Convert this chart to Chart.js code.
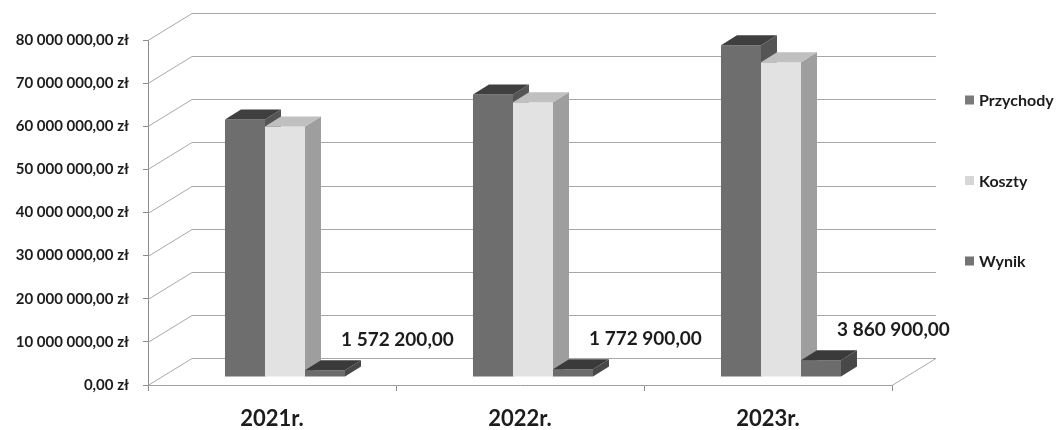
<!DOCTYPE html>
<html lang="pl">
<head>
<meta charset="utf-8">
<title>Przychody, koszty i wynik</title>
<script src="https://cdn.jsdelivr.net/npm/chart.js@4.4.1/dist/chart.umd.min.js"></script>
<style>
    html, body { margin: 0; padding: 0; background: #fff; }
    #wrap { width: 1057px; height: 430px; position: relative; }
</style>
</head>
<body>
<div id="wrap"><canvas id="wykres"></canvas></div>
<script>
const lata = ['2021r.', '2022r.', '2023r.'];
const przychody = [59700000, 65500000, 76900000];
const koszty = [58100000, 63700000, 73000000];
const wynik = [1572200, 1772900, 3860900];

const osMin = 0;
const osMax = 80000000;
const osKrok = 10000000;

const FONT = 'Lato, "Open Sans", sans-serif';
const TEKST = '#1c1c1c';

// przesuniecia "3D"
const SCIANA = { dx: 44, dy: -27 };
const SLUPKI = { dx: 13, dy: -8 };
const BRYLA = { dx: 16, dy: -10 };

function kwota(v) {
    return Math.round(v).toString().replace(/\B(?=(\d{3})+(?!\d))/g, ' ') + ',00';
}

function wielokat(ctx, pkt) {
    ctx.beginPath();
    ctx.moveTo(pkt[0][0], pkt[0][1]);
    for (let i = 1; i < pkt.length; i++) ctx.lineTo(pkt[i][0], pkt[i][1]);
    ctx.closePath();
    ctx.fill();
}

const trojwymiar = {
    id: 'trojwymiar',
    beforeDatasetsDraw(chart) {
        const { ctx, chartArea: a, scales: { y } } = chart;
        ctx.save();
        ctx.strokeStyle = '#a8a8a8';
        ctx.lineWidth = 1;
        y.ticks.forEach(t => {
            const py = Math.round(y.getPixelForValue(t.value)) + 0.5;
            ctx.beginPath();
            ctx.moveTo(a.left, py);
            ctx.lineTo(a.left + SCIANA.dx, py + SCIANA.dy);
            ctx.lineTo(a.right + SCIANA.dx, py + SCIANA.dy);
            ctx.stroke();
        });
        ctx.beginPath();
        ctx.moveTo(a.right, a.bottom + 0.5);
        ctx.lineTo(a.right + SCIANA.dx, a.bottom + 0.5 + SCIANA.dy);
        ctx.stroke();
        ctx.restore();
    },
    // slupki rysujemy sami, od lewej do prawej, zeby boki sie dobrze zaslanialy
    beforeDatasetDraw() {
        return false;
    },
    afterDatasetsDraw(chart) {
        const ctx = chart.ctx;
        ctx.save();
        ctx.translate(SLUPKI.dx, SLUPKI.dy);
        chart.data.datasets.forEach((ds, i) => {
            chart.getDatasetMeta(i).data.forEach(bar => {
                bar.draw(ctx);
                const { x, y, base, width } = bar.getProps(['x', 'y', 'base', 'width'], true);
                const l = x - width / 2, r = x + width / 2;
                ctx.fillStyle = ds.kolorBoku;
                wielokat(ctx, [[r, y], [r + BRYLA.dx, y + BRYLA.dy], [r + BRYLA.dx, base + BRYLA.dy], [r, base]]);
                ctx.fillStyle = ds.kolorGory;
                wielokat(ctx, [[l, y], [r, y], [r + BRYLA.dx, y + BRYLA.dy], [l + BRYLA.dx, y + BRYLA.dy]]);
            });
        });
        ctx.restore();
    },
    afterDraw(chart) {
        const ctx = chart.ctx;
        ctx.save();
        ctx.fillStyle = TEKST;

        // etykiety wyniku
        ctx.font = 'bold 19px ' + FONT;
        ctx.textAlign = 'left';
        ctx.textBaseline = 'middle';
        chart.getDatasetMeta(2).data.forEach((bar, i) => {
            const tx = bar.x + bar.width / 2 + SLUPKI.dx - 4;
            const ty = bar.y + SLUPKI.dy - 30;
            ctx.fillText(kwota(wynik[i]), tx, ty);
        });

        // legenda
        ctx.font = 'bold 16px ' + FONT;
        chart.data.datasets.forEach((ds, i) => {
            const ly = 100 + i * 80.5;
            ctx.fillStyle = ds.kolorLegendy;
            ctx.fillRect(965, ly - 4.5, 9, 9);
            ctx.fillStyle = TEKST;
            ctx.fillText(ds.label, 979, ly + 1);
        });
        ctx.restore();
    }
};

const ctx = document.getElementById('wykres').getContext('2d');
new Chart(ctx, {
    type: 'bar',
    data: {
        labels: lata,
        datasets: [
            { label: 'Przychody', data: przychody, backgroundColor: '#6e6e6e', kolorGory: '#3f3f3f', kolorBoku: '#555555', kolorLegendy: '#7a7a7a' },
            { label: 'Koszty', data: koszty, backgroundColor: '#e2e2e2', kolorGory: '#c0c0c0', kolorBoku: '#9e9e9e', kolorLegendy: '#d6d6d6' },
            { label: 'Wynik', data: wynik, backgroundColor: '#6c6c6c', kolorGory: '#3a3a3a', kolorBoku: '#484848', kolorLegendy: '#737373' }
        ]
    },
    options: {
        responsive: true,
        maintainAspectRatio: false,
        animation: false,
        events: [],
        layout: { padding: { top: 40, right: 165, left: 0, bottom: 0 } },
        datasets: { bar: { categoryPercentage: 0.484, barPercentage: 1.0, borderWidth: 0 } },
        plugins: {
            legend: { display: false },
            tooltip: { enabled: false }
        },
        scales: {
            x: {
                grid: { drawOnChartArea: false, drawTicks: true, tickLength: 6, color: '#8c8c8c' },
                border: { display: true, color: '#a0a0a0' },
                ticks: { color: TEKST, font: { family: FONT, size: 22, weight: 'bold' }, padding: 15 },
                afterFit(scale) { scale.height = 45; }
            },
            y: {
                min: osMin,
                max: osMax,
                grid: { drawOnChartArea: false, drawTicks: true, tickLength: 5, color: '#8c8c8c' },
                border: { display: true, color: '#8c8c8c' },
                ticks: {
                    stepSize: osKrok,
                    color: TEKST,
                    padding: 14,
                    font: { family: FONT, size: 15, weight: 'bold' },
                    callback: v => kwota(v) + ' zł'
                },
                afterFit(scale) { scale.width = 148; }
            }
        }
    },
    plugins: [trojwymiar]
});
</script>
</body>
</html>
